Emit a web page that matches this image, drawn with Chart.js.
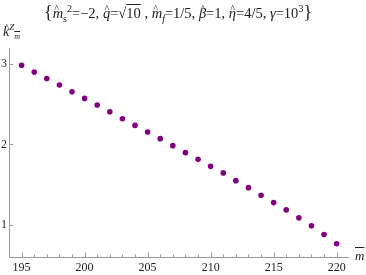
<!DOCTYPE html>
<html>
<head>
<meta charset="utf-8">
<script src="https://cdn.jsdelivr.net/npm/chart.js@4"></script>
<style>
  body { margin: 0; background: #fff; }
  #wrap { position: relative; width: 366px; height: 275px; font-family: "Liberation Serif", serif; color: #222; }
  canvas { position: absolute; left: 0; top: 0; }
  #titulo { position: absolute; left: 0; width: 356px; top: 2px; text-align: center; font-size: 14.5px; white-space: nowrap; }
  #titulo sub, #titulo sup { font-size: 10px; }
  #ylab { position: absolute; left: 3px; top: 22px; font-size: 14px; font-style: italic; }
  #xlab { position: absolute; left: 355px; top: 248px; font-size: 13px; font-style: italic; }
  .ov { text-decoration: overline; }
  .hat { position: relative; display: inline-block; font-style: italic; }
  .hat::after { content: "^"; position: absolute; left: 1.5px; top: -2px; font-style: normal; font-size: 0.7em; }
</style>
</head>
<body>
<div id="wrap">
  <canvas id="grafico" width="366" height="275"></canvas>
  <div id="titulo"><span style="font-size:18px">{</span><span class="hat">m</span><sub>s</sub><sup>2</sup>=−2, <span class="hat">q</span>=√<span class="ov">10</span> , <span class="hat">m</span><sub><i>f</i></sub>=1/5, <span class="hat">β</span>=1, <span class="hat">η</span>=4/5, <i>γ</i>=10<sup>3</sup><span style="font-size:18px">}</span></div>
  <div id="ylab"><span class="hat">k</span><sup style="font-size:9px">Z</sup><sub style="font-size:8px" class="ov">m</sub></div>
  <div id="xlab"><span class="ov">m</span></div>
</div>
<script>
// valores
const masas = [195, 196, 197, 198, 199, 200, 201, 202, 203, 204, 205, 206, 207,
               208, 209, 210, 211, 212, 213, 214, 215, 216, 217, 218, 219, 220];
const kz = [2.985, 2.90, 2.82, 2.74, 2.656, 2.573, 2.49, 2.407, 2.32, 2.237, 2.155, 2.072, 1.985,
            1.898, 1.815, 1.728, 1.646, 1.55, 1.463, 1.368, 1.277, 1.186, 1.087, 0.988, 0.88, 0.764];
const ticksX = [195, 200, 205, 210, 215, 220];
const ticksY = [1, 2, 3];

const colorEje = "#999";
const fuenteTicks = { family: "Liberation Serif", size: 12 };

// marcas hacia dentro, estilo Mathematica
const marcasInternas = {
  id: "marcasInternas",
  afterDraw(chart) {
    const ctx = chart.ctx;
    const sx = chart.scales.x, sy = chart.scales.y;
    const base = sy.getPixelForValue(sy.min);
    const izq = sx.getPixelForValue(sx.min);
    ctx.save();
    ctx.strokeStyle = colorEje;
    ctx.lineWidth = 1;
    for (let v = Math.ceil(sx.min); v <= sx.max; v++) {
      const px = Math.round(sx.getPixelForValue(v)) + 0.5;
      const largo = v % 5 === 0 ? 4.5 : 2.5;
      ctx.beginPath();
      ctx.moveTo(px, base);
      ctx.lineTo(px, base - largo);
      ctx.stroke();
    }
    ticksY.forEach(v => {
      const py = Math.round(sy.getPixelForValue(v)) + 0.5;
      ctx.beginPath();
      ctx.moveTo(izq, py);
      ctx.lineTo(izq + 4, py);
      ctx.stroke();
    });
    ctx.restore();
  }
};

function dibujar() {
  new Chart(document.getElementById("grafico"), {
    type: "scatter",
    data: {
      datasets: [{
        data: masas.map((m, i) => ({ x: m, y: kz[i] })),
        backgroundColor: "#800080",
        borderColor: "#800080",
        pointRadius: 2.8,
        pointBorderWidth: 0
      }]
    },
    options: {
      responsive: false,
      animation: false,
      layout: { padding: { top: 48, right: 18, left: 0, bottom: 0 } },
      plugins: { legend: { display: false }, tooltip: { enabled: false } },
      scales: {
        x: {
          type: "linear",
          min: 194,
          max: 220.9,
          afterBuildTicks: s => { s.ticks = ticksX.map(v => ({ value: v })); },
          afterFit: s => { s.height = 18; },
          grid: { display: false, drawTicks: false },
          border: { display: true, color: colorEje, width: 1 },
          ticks: { padding: 4, color: "#222", font: fuenteTicks }
        },
        y: {
          type: "linear",
          min: 0.6,
          max: 3.2,
          afterBuildTicks: s => { s.ticks = ticksY.map(v => ({ value: v })); },
          afterFit: s => { s.width = 9; },
          grid: { display: false, drawTicks: false },
          border: { display: true, color: colorEje, width: 1 },
          ticks: { padding: 2, color: "#222", font: fuenteTicks }
        }
      }
    },
    plugins: [marcasInternas]
  });
}

document.fonts.load('12px "Liberation Serif"').then(dibujar, dibujar);
</script>
</body>
</html>
